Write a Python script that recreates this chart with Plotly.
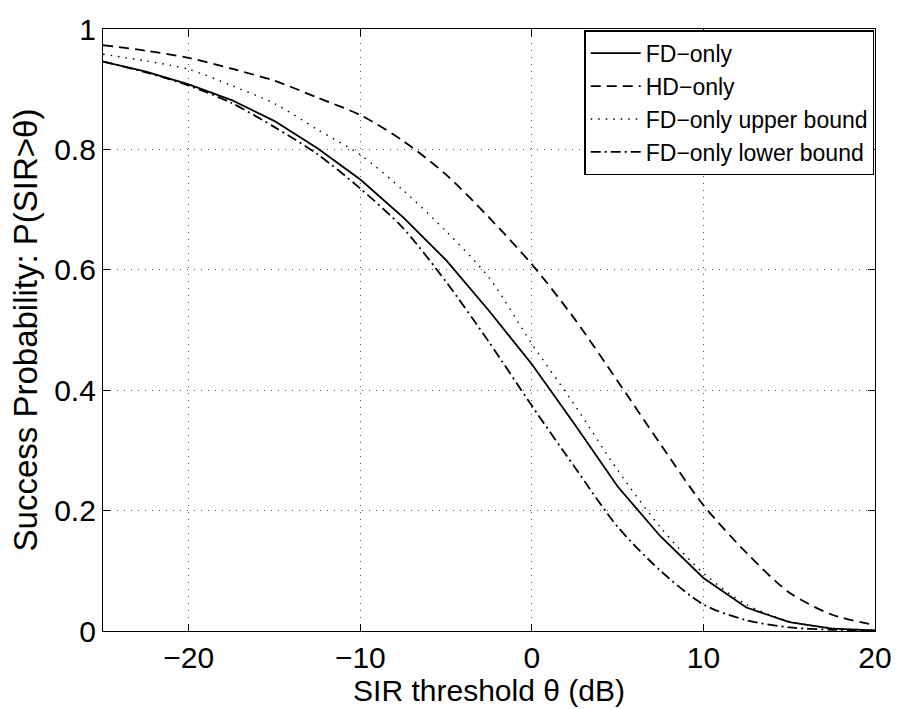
import plotly.graph_objects as go

theta_db = [-25, -22.5, -20, -17.5, -15, -12.5, -10, -7.5, -5, -2.5,
            0, 2.5, 5, 7.5, 10, 12.5, 15, 17.5, 20]
fd_only = [0.946, 0.929, 0.908, 0.882, 0.847, 0.802, 0.750, 0.687, 0.616, 0.532,
           0.443, 0.343, 0.240, 0.157, 0.088, 0.039, 0.0146, 0.004, 0.001]
hd_only = [0.973, 0.964, 0.952, 0.934, 0.914, 0.886, 0.857, 0.814, 0.758, 0.687,
           0.609, 0.518, 0.415, 0.310, 0.209, 0.130, 0.064, 0.027, 0.010]
fd_upper = [0.958, 0.947, 0.933, 0.906, 0.876, 0.833, 0.791, 0.732, 0.664, 0.587,
            0.477, 0.375, 0.267, 0.172, 0.096, 0.044, 0.016, 0.005, 0.0015]
fd_lower = [0.946, 0.928, 0.906, 0.877, 0.837, 0.792, 0.735, 0.669, 0.580, 0.480,
            0.374, 0.272, 0.173, 0.100, 0.044, 0.018, 0.006, 0.002, 0.0005]

names = ["FD\u2212only", "HD\u2212only", "FD\u2212only upper bound", "FD\u2212only lower bound"]
x_ticks = [-20, -10, 0, 10, 20]
x_ticktext = ["\u221220", "\u221210", "0", "10", "20"]
y_ticks = [0, 0.2, 0.4, 0.6, 0.8, 1]
y_ticktext = ["0", "0.2", "0.4", "0.6", "0.8", "1"]

FONT = "Liberation Sans, Arial, Helvetica, sans-serif"

fig = go.Figure()
fig.add_trace(go.Scatter(x=theta_db, y=fd_only, mode="lines", name=names[0],
                         line=dict(color="black", width=1.8)))
fig.add_trace(go.Scatter(x=theta_db, y=hd_only, mode="lines", name=names[1],
                         line=dict(color="black", width=1.8, dash="10px,6px",
                                   shape="spline", smoothing=0.8)))
fig.add_trace(go.Scatter(x=theta_db, y=fd_upper, mode="lines", name=names[2],
                         line=dict(color="black", width=1.4, dash="1.5px,6px",
                                   shape="spline", smoothing=0.8)))
fig.add_trace(go.Scatter(x=theta_db, y=fd_lower, mode="lines", name=names[3],
                         line=dict(color="black", width=1.8, dash="10px,4px,2px,4px",
                                   shape="spline", smoothing=0.8)))

axis_common = dict(
    showline=True, linecolor="black", linewidth=1.3, mirror="ticks",
    ticks="inside", ticklen=7, tickwidth=1.2, tickcolor="black",
    showgrid=True, gridcolor="#555555", gridwidth=1, griddash="1px,6px",
    zeroline=False,
    tickfont=dict(family=FONT, size=30, color="black"),
)

fig.update_layout(
    width=904, height=709,
    margin=dict(l=102.5, r=21.3, t=19, b=75),
    paper_bgcolor="white", plot_bgcolor="white",
    font=dict(family=FONT, color="black"),
    showlegend=True,
    legend=dict(
        x=0.999, y=0.998, xanchor="right", yanchor="top",
        bgcolor="white", bordercolor="black", borderwidth=1.5,
        font=dict(family=FONT, size=23, color="black"),
        itemwidth=50, tracegroupgap=0,
    ),
    xaxis=dict(range=[-25, 20], tickvals=x_ticks, ticktext=x_ticktext,
               title=dict(text="SIR threshold \u03b8 (dB)", standoff=2,
                          font=dict(family=FONT, size=30, color="black")),
               **axis_common),
    yaxis=dict(range=[0, 1], tickvals=y_ticks, ticktext=y_ticktext,
               title=dict(text="Success Probability: P(SIR>\u03b8)", standoff=6,
                          font=dict(family=FONT, size=33, color="black")),
               **axis_common),
)

fig.write_html("out.html")
